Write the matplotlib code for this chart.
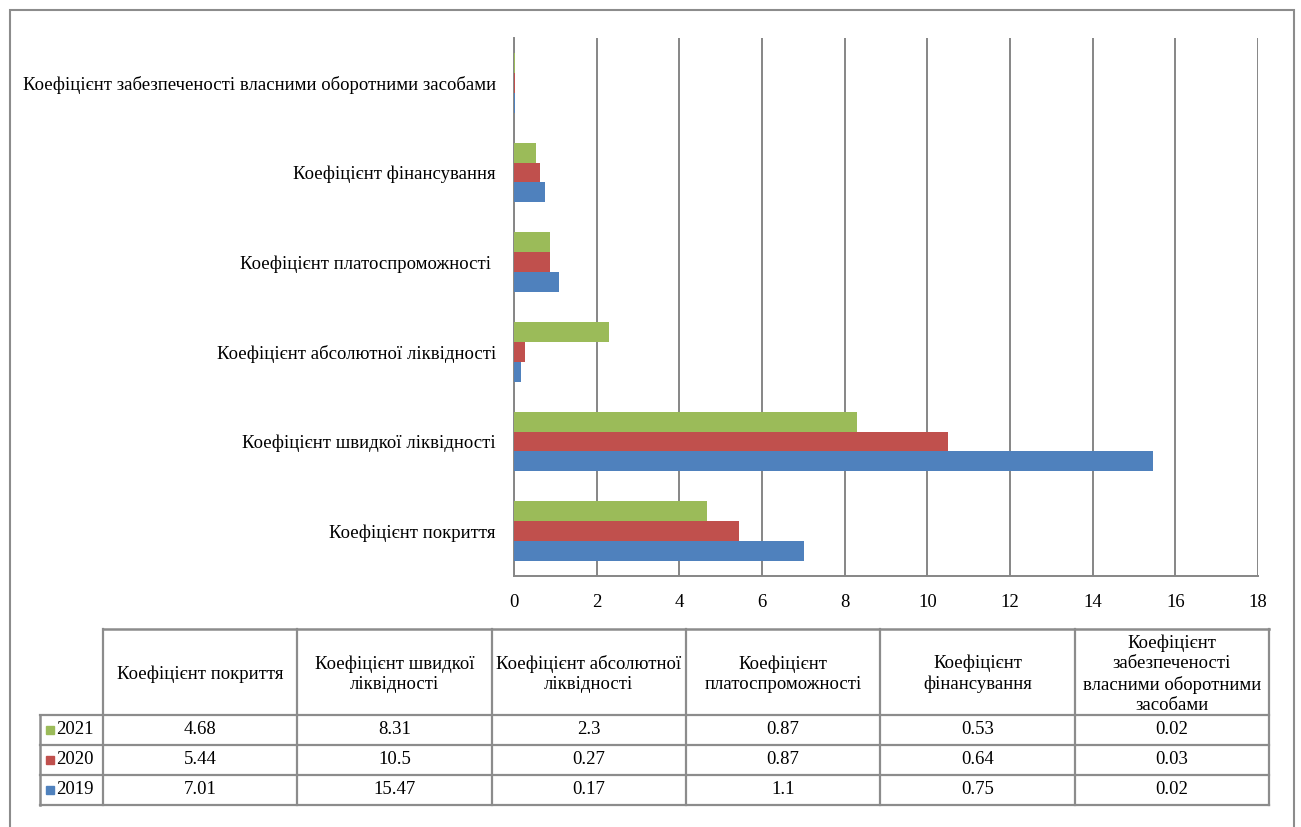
import textwrap
import matplotlib.pyplot as plt
from matplotlib.patches import Rectangle

plt.rcParams['font.family'] = ['Liberation Serif', 'DejaVu Serif']

# показники (знизу вгору на графіку)
categories = [
    "Коефіцієнт покриття",
    "Коефіцієнт швидкої ліквідності",
    "Коефіцієнт абсолютної ліквідності",
    "Коефіцієнт платоспроможності ",
    "Коефіцієнт фінансування",
    "Коефіцієнт забезпеченості власними оборотними засобами",
]
years = ["2021", "2020", "2019"]
values_2021 = [4.68, 8.31, 2.3, 0.87, 0.53, 0.02]
values_2020 = [5.44, 10.5, 0.27, 0.87, 0.64, 0.03]
values_2019 = [7.01, 15.47, 0.17, 1.1, 0.75, 0.02]
x_ticks = list(range(0, 19, 2))

series = {"2021": values_2021, "2020": values_2020, "2019": values_2019}
colors = {"2021": "#9BBB59", "2020": "#C0504D", "2019": "#4F81BD"}
offsets = {"2021": 0.222, "2020": 0.0, "2019": -0.222}
grid_c = "#868686"
fs = 13.5

W, H = 1301, 827
fig = plt.figure(figsize=(W / 100, H / 100), dpi=100)

# рамка навколо всього рисунка
fig.patches.append(Rectangle((10 / W, -0.05), 1284 / W, 1.05 - 10 / H,
                             transform=fig.transFigure, fill=False,
                             edgecolor="#8c8c8c", linewidth=1.5))

ax = fig.add_axes([514 / W, 1 - 576 / H, 744 / W, 538 / H])
ypos = list(range(len(categories)))
for yr in years:
    ax.barh([p + offsets[yr] for p in ypos], series[yr], height=0.222,
            color=colors[yr], zorder=3)

ax.set_xlim(0, 18)
ax.set_ylim(-0.5, len(categories) - 0.5)
ax.set_xticks(x_ticks)
ax.set_yticks(ypos)
ax.set_yticklabels(categories, fontsize=fs)
ax.tick_params(axis="x", length=0, pad=13, labelsize=fs)
ax.tick_params(axis="y", length=0, pad=13)
ax.xaxis.grid(True, color=grid_c, linewidth=1.4, zorder=0)
for s in ["top", "right"]:
    ax.spines[s].set_visible(False)
for s in ["left", "bottom"]:
    ax.spines[s].set_color(grid_c)
    ax.spines[s].set_linewidth(1.4)

# таблиця даних під графіком
tx0, tx1, ty0, ty1 = 40, 1269, 629, 805
tab = fig.add_axes([tx0 / W, 1 - ty1 / H, (tx1 - tx0) / W, (ty1 - ty0) / H])
tab.set_xlim(tx0, tx1)
tab.set_ylim(ty1, ty0)
tab.axis("off")

lab_w = 63
col_w = (tx1 - tx0 - lab_w) / len(categories)
head_b = 715
row_h = 30
lc = "#8c8c8c"

col_x = [tx0 + lab_w + i * col_w for i in range(len(categories) + 1)]
for x in col_x:
    tab.plot([x, x], [ty0, ty1], color=lc, lw=1.6, clip_on=False)
tab.plot([tx0, tx0], [head_b, ty1], color=lc, lw=1.8, clip_on=False)
tab.plot([col_x[0], tx1], [ty0, ty0], color=lc, lw=1.8, clip_on=False)
for i in range(len(years) + 1):
    y = head_b + i * row_h
    tab.plot([tx0, tx1], [y, y], color=lc, lw=1.6, clip_on=False)

for i, cat in enumerate(categories):
    cx = (col_x[i] + col_x[i + 1]) / 2
    tab.text(cx, (ty0 + head_b) / 2 + 2, textwrap.fill(cat.strip(), 21),
             ha="center", va="center", fontsize=fs, linespacing=1.25)

for r, yr in enumerate(years):
    cy = head_b + (r + 0.5) * row_h
    tab.add_patch(Rectangle((46, cy - 4), 8, 8, color=colors[yr], clip_on=False))
    tab.text(56, cy, yr, ha="left", va="center", fontsize=fs)
    for i, v in enumerate(series[yr]):
        cx = (col_x[i] + col_x[i + 1]) / 2
        tab.text(cx, cy, f"{v:g}", ha="center", va="center", fontsize=fs)

fig.savefig("out.png", dpi=100)
